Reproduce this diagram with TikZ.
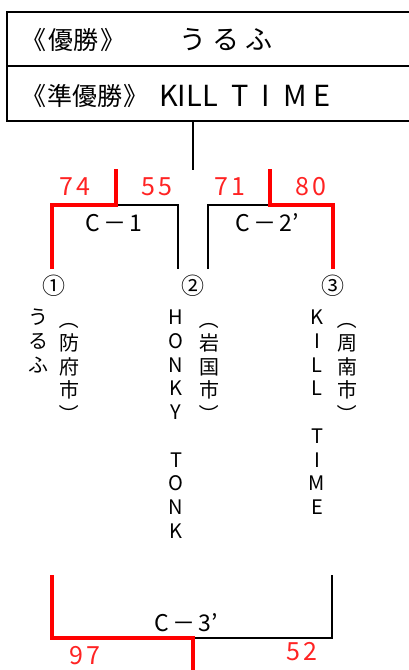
\documentclass[tikz,border=0pt]{standalone}
\usepackage{fontspec}
\setmainfont{Noto Sans CJK JP}
\definecolor{scorered}{RGB}{255,35,35}
\newcommand{\vlp}{\rotatebox[origin=c]{-90}{（}}
\newcommand{\vrp}{\rotatebox[origin=c]{-90}{）}}
\begin{document}
\begin{tikzpicture}[x=1pt,y=-1pt,
  win/.style={draw=red,line width=4pt},
  lose/.style={draw=black,line width=1.6pt},
  frame/.style={draw=black,line width=1.8pt},
  score/.style={text=scorered,font=\fontsize{25}{25}\selectfont,inner sep=0},
  lbl/.style={font=\fontsize{23}{23}\selectfont,inner sep=0},
  seed/.style={font=\fontsize{23}{23}\selectfont,inner sep=0},
  boxtxt/.style={font=\fontsize{25}{25}\selectfont,inner sep=0,anchor=west},
  vert/.style={anchor=north,align=center,inner sep=0,font=\fontsize{20}{23.7}\selectfont}]
\useasboundingbox (0,0) rectangle (409,670);
\clip (0,0) rectangle (409,670);
% result box
\coordinate (bTL) at (7,12);
\coordinate (bML) at (7,66);
\coordinate (bBL) at (7,121);
\coordinate (bTR) at (412,12);
\coordinate (bMR) at (412,66);
\coordinate (bBR) at (412,121);
\draw[frame] (bTR) -- (bTL) -- (bBL) -- (bBR);
\draw[frame] (bML) -- (bMR);
\node[boxtxt] (champ) at (21,40) {《\hspace{2pt}優勝\hspace{2pt}》};
\node[boxtxt,font=\fontsize{27}{27}\selectfont] (champname) at (179,40) {う\hspace{6pt}る\hspace{6pt}ふ};
\node[boxtxt] (runner) at (21,96) {《\hspace{1pt}準優勝\hspace{1pt}》};
\node[boxtxt,font=\fontsize{29}{29}\selectfont] (runnername) at (159,96) {KILL\hspace{14pt}T\hspace{12pt}I\hspace{14pt}M\hspace{6pt}E};
% final stem
\coordinate (stemtop) at (193,121);
\coordinate (stembot) at (193,170);
\draw[lose] (stemtop) -- (stembot);
% bracket C-1
\coordinate (a1) at (52,269);
\coordinate (a2) at (52,205);
\coordinate (a3) at (116,205);
\coordinate (a4) at (116,169);
\coordinate (a5) at (178,205);
\coordinate (a6) at (178,269);
\draw[lose] (a3) -- (a5) -- (a6);
\draw[win] (a1) -- (a2) -- (a3) -- (a4);
% bracket C-2'
\coordinate (c1) at (208,269);
\coordinate (c2) at (208,205);
\coordinate (c3) at (270,205);
\coordinate (c4) at (270,169);
\coordinate (c5) at (333,205);
\coordinate (c6) at (333,269);
\draw[lose] (c1) -- (c2) -- (c3);
\draw[win] (c4) -- (c3) -- (c5) -- (c6);
\node[score] (s74) at (75,187) {7\hspace{3pt}4};
\node[score] (s55) at (157,187) {5\hspace{3pt}5};
\node[score] (s71) at (230,187) {7\hspace{3pt}1};
\node[score] (s80) at (311,187) {8\hspace{3pt}0};
\node[lbl] (m1) at (114,223) {C\hspace{3pt}－\hspace{3pt}1};
\node[lbl] (m2) at (267,223) {C\hspace{3pt}－\hspace{3pt}2’};
% teams
\node[seed] (n1) at (54,286) {①};
\node[seed] (n2) at (193,286) {②};
\node[seed] (n3) at (333,286) {③};
\node[vert] (t1) at (38,309) {う\\る\\ふ};
\node[vert] (p1) at (69,309) {\vlp\\防\\府\\市\\\vrp};
\node[vert] (t2) at (176,310) {H\\O\\N\\K\\Y\\\mbox{}\\T\\O\\N\\K};
\node[vert] (p2) at (209,309) {\vlp\\岩\\国\\市\\\vrp};
\node[vert] (t3) at (317,310) {K\\I\\L\\L\\\mbox{}\\T\\I\\M\\E};
\node[vert] (p3) at (347,309) {\vlp\\周\\南\\市\\\vrp};
% bracket C-3'
\coordinate (d1) at (52,575);
\coordinate (d2) at (52,638);
\coordinate (d3) at (193,638);
\coordinate (d4) at (193,672);
\coordinate (d5) at (332,638);
\coordinate (d6) at (332,575);
\draw[lose] (d3) -- (d5) -- (d6);
\draw[win] (d1) -- (d2) -- (d3) -- (d4);
\node[lbl] (m3) at (186,623) {C\hspace{3pt}－\hspace{3pt}3’};
\node[score] (s97) at (85,656) {9\hspace{3pt}7};
\node[score] (s52) at (302,652) {5\hspace{3pt}2};
\end{tikzpicture}
\end{document}
